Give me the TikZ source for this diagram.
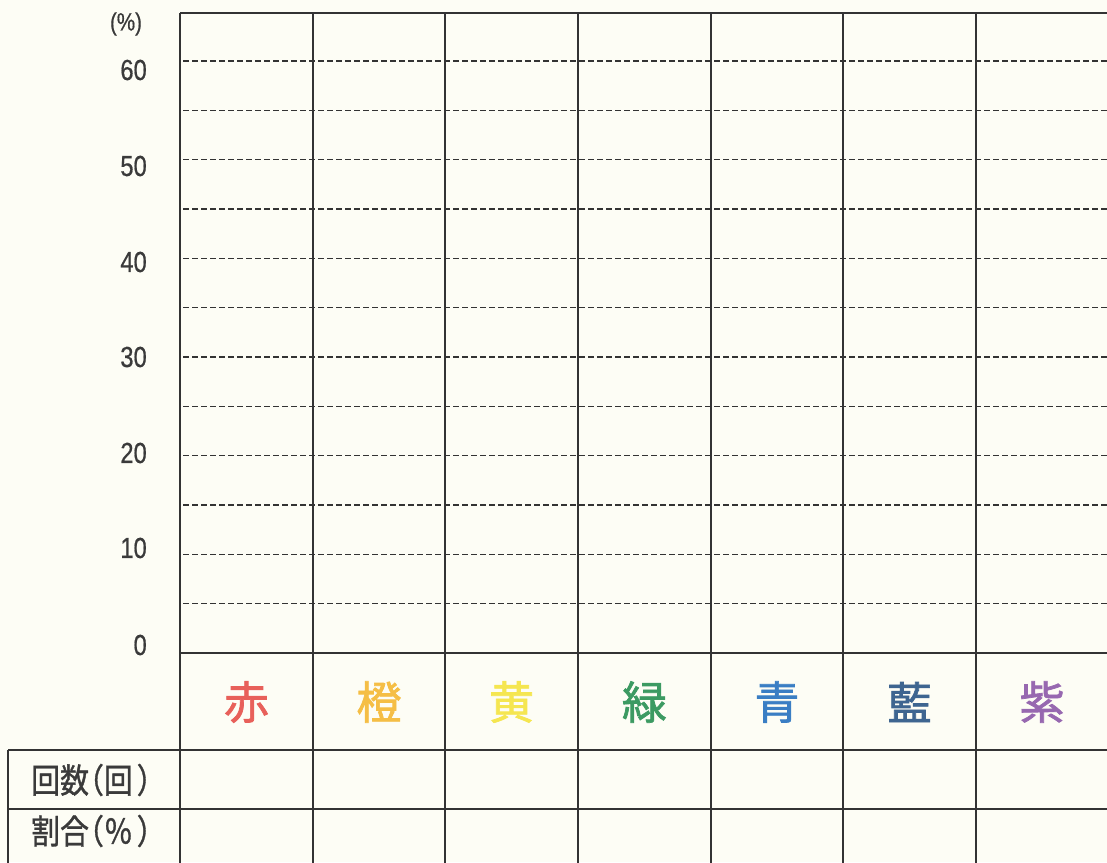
\documentclass[tikz,border=0pt]{standalone}
\usepackage{fontspec}
\setmainfont{Noto Sans CJK JP}
\newfontfamily\jpn[FakeStretch=0.85,FakeBold=1.0]{Noto Sans CJK JP}
\newfontfamily\jpc[FakeBold=1.6]{Noto Sans CJK JP}
\newfontfamily\numf[FakeStretch=0.82,FakeBold=0.6]{Liberation Sans}
\definecolor{bgc}{HTML}{FDFDF5}
\definecolor{ink}{HTML}{333333}
\definecolor{txt}{HTML}{3A3A3A}
\definecolor{cred}{HTML}{E8605A}
\definecolor{corange}{HTML}{F5BE45}
\definecolor{cyellow}{HTML}{F5E650}
\definecolor{cgreen}{HTML}{3C9A62}
\definecolor{cblue}{HTML}{3A7EC4}
\definecolor{cindigo}{HTML}{3E6590}
\definecolor{cviolet}{HTML}{9768B0}
\tikzset{
  solidline/.style={draw=ink, line width=1.8pt},
  dashline/.style={draw=ink, line width=1.5pt, dash pattern=on 5.5pt off 3.5pt},
  ticklabel/.style={anchor=east, inner sep=0pt, text=txt, font=\numf\fontsize{29}{29}\selectfont},
  colorlabel/.style={inner sep=0pt, font=\jpc\fontsize{45}{45}\selectfont},
  rowlabel/.style={anchor=west, inner sep=0pt, text=txt, font=\jpn\fontsize{34}{34}\selectfont}
}
\begin{document}
\begin{tikzpicture}[x=1pt,y=-1pt]
\fill[bgc] (0,0) rectangle (1107,862);
\useasboundingbox (0,0) rectangle (1107,862);
% dashed grid lines
\foreach \k in {1,...,12} {
  \path[dashline] (183,{653-\k*49.33}) -- (1110,{653-\k*49.33});
}
% solid frame
\path[solidline] (180,13) -- (1110,13);
\path[solidline] (180,653) -- (1110,653);
\path[solidline] (8,750) -- (1110,750);
\path[solidline] (8,809) -- (1110,809);
\path[solidline] (8,750) -- (8,866);
\foreach \x in {180,313,445,578,711,843,976} {
  \path[solidline] (\x,13) -- (\x,866);
}
% axis labels
\node[inner sep=0pt, text=txt, font=\numf\fontsize{25}{25}\selectfont] (unit) at (126,24) {(\%)};
\node[ticklabel] (t60) at (147,70) {60};
\node[ticklabel] (t50) at (147,166) {50};
\node[ticklabel] (t40) at (147,262) {40};
\node[ticklabel] (t30) at (147,357) {30};
\node[ticklabel] (t20) at (147,453) {20};
\node[ticklabel] (t10) at (147,548) {10};
\node[ticklabel] (t0) at (147,645) {0};
% colour labels
\node[colorlabel, text=cred] (red) at (246.5,702) {赤};
\node[colorlabel, text=corange] (orange) at (379,702) {橙};
\node[colorlabel, text=cyellow] (yellow) at (511.5,702) {黄};
\node[colorlabel, text=cgreen] (green) at (644.5,702) {緑};
\node[colorlabel, text=cblue] (blue) at (777,702) {青};
\node[colorlabel, text=cindigo] (indigo) at (909.5,702) {藍};
\node[colorlabel, text=cviolet] (violet) at (1042,702) {紫};
% row labels
\node[rowlabel] (count) at (31,780) {回数\kern-14pt（回\kern4pt）};
\node[rowlabel] (ratio) at (31,831) {割合\kern-14pt（％\kern4pt）};
\end{tikzpicture}
\end{document}
